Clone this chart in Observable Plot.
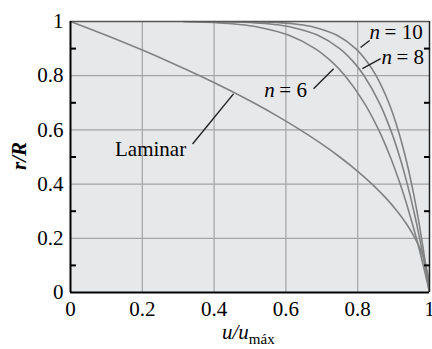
<!DOCTYPE html>
<html>
<head>
<meta charset="utf-8">
<script src="https://cdn.jsdelivr.net/npm/d3@7"></script>
<script src="https://cdn.jsdelivr.net/npm/@observablehq/plot@0.6"></script>
<style>
  html, body { margin: 0; padding: 0; background: white; }
</style>
</head>
<body>
<div id="chart"></div>
<script>
// r/R sample positions (shared by turbulent curves)
const rTurb = [0, 0.01, 0.02, 0.05, 0.1, 0.2, 0.3, 0.4, 0.5, 0.6, 0.7, 0.8, 0.85, 0.9, 0.95, 0.98, 0.99, 0.995, 0.999];
const uN6  = [1, 0.99833, 0.99664, 0.99149, 0.98259, 0.96349, 0.94228, 0.91838, 0.89090, 0.85837, 0.81818, 0.76472, 0.72892, 0.68129, 0.60696, 0.52102, 0.46416, 0.41352, 0.31623];
const uN8  = [1, 0.99874, 0.99748, 0.99361, 0.98692, 0.97250, 0.95640, 0.93815, 0.91700, 0.89178, 0.86028, 0.81777, 0.78886, 0.74989, 0.68766, 0.61323, 0.56234, 0.51566, 0.42170];
const uN10 = [1, 0.99900, 0.99798, 0.99488, 0.98952, 0.97793, 0.96496, 0.95020, 0.93303, 0.91245, 0.88657, 0.85134, 0.82720, 0.79433, 0.74113, 0.67624, 0.63096, 0.58870, 0.50119];
// laminar
const rLam = [0, 0.05, 0.1, 0.15, 0.2, 0.25, 0.3, 0.35, 0.4, 0.45, 0.5, 0.55, 0.6, 0.65, 0.7, 0.75, 0.8, 0.85, 0.9, 0.95, 1];
const uLam = [1, 0.9975, 0.99, 0.9775, 0.96, 0.9375, 0.91, 0.8775, 0.84, 0.7975, 0.75, 0.6975, 0.64, 0.5775, 0.51, 0.4375, 0.36, 0.2775, 0.19, 0.0975, 0];

const majorTicks = [0, 0.2, 0.4, 0.6, 0.8, 1];
const gridTicks = [0.2, 0.4, 0.6, 0.8];
const minorTicks = [0.1, 0.3, 0.5, 0.7, 0.9];

// annotation labels (data units)
const labelText = ["Laminar", "6", "8", "10"];
const labelU = [0.223, 0.54, 0.866, 0.833];
const labelR = [0.53, 0.745, 0.867, 0.96];
const leadU1 = [0.340, 0.677, 0.813, 0.808];
const leadR1 = [0.548, 0.752, 0.826, 0.904];
const leadU2 = [0.454, 0.733, 0.864, 0.833];
const leadR2 = [0.733, 0.826, 0.863, 0.930];

const curves = [];
rTurb.forEach((r, i) => {
  curves.push({n: "6", u: uN6[i], r});
  curves.push({n: "8", u: uN8[i], r});
  curves.push({n: "10", u: uN10[i], r});
});
rLam.forEach((r, i) => curves.push({n: "lam", u: uLam[i], r}));

const leaders = labelText.map((t, i) => ({x1: leadU1[i], y1: leadR1[i], x2: leadU2[i], y2: leadR2[i]}));
const lamLabel = [{t: labelText[0], u: labelU[0], r: labelR[0]}];
const nLabels = labelText.slice(1).map((t, i) => ({t, u: labelU[i + 1], r: labelR[i + 1]}));

const FONT = "Liberation Serif";
const FS = 21;

const plot = Plot.plot({
  width: 432,
  height: 349,
  marginLeft: 70,
  marginRight: 3,
  marginTop: 21,
  marginBottom: 57,
  style: "font-size: 21px; background: white; color: black; overflow: visible;",
  x: {domain: [0, 1], axis: null},
  y: {domain: [0, 1], axis: null},
  marks: [
    Plot.frame({fill: "#e7e8ea", stroke: null}),
    Plot.gridX(gridTicks, {stroke: "#a4a4a4", strokeOpacity: 1, strokeWidth: 1.2}),
    Plot.gridY(gridTicks, {stroke: "#a4a4a4", strokeOpacity: 1, strokeWidth: 1.2}),
    Plot.line(curves, {x: "u", y: "r", z: "n", stroke: "#828282", strokeWidth: 1.6, curve: "catmull-rom", clip: true}),
    Plot.link(leaders, {x1: "x1", y1: "y1", x2: "x2", y2: "y2", stroke: "#222", strokeWidth: 1.4}),
    Plot.ruleY([1], {stroke: "#555", strokeWidth: 1.5}),
    Plot.ruleX([1], {stroke: "#222", strokeWidth: 1.5}),
    Plot.ruleX([0], {stroke: "black", strokeWidth: 2}),
    Plot.ruleY([0], {stroke: "black", strokeWidth: 2}),
    Plot.axisY(minorTicks, {anchor: "left", tickSize: -6, text: null, stroke: "black", strokeWidth: 2}),
    Plot.axisY(minorTicks, {anchor: "right", tickSize: -6, text: null, stroke: "black", strokeWidth: 2}),
    Plot.axisY(majorTicks, {anchor: "left", tickSize: 0, tickPadding: 7, fontSize: FS, fontVariant: "normal", tickFormat: d => String(d), label: null}),
    Plot.axisX(majorTicks, {anchor: "bottom", tickSize: 0, tickPadding: 9, fontSize: FS, fontVariant: "normal", tickFormat: d => String(d), label: null}),
    Plot.text(lamLabel, {x: "u", y: "r", text: "t", fontSize: FS, textAnchor: "middle", fill: "black"}),
    Plot.text(nLabels, {x: "u", y: "r", text: d => "n", fontSize: FS, fontStyle: "italic", textAnchor: "start", fill: "black"}),
    Plot.text(nLabels, {x: "u", y: "r", text: d => "= " + d.t, fontSize: FS, textAnchor: "start", dx: 15, fill: "black"})
  ]
});

const svg = d3.select(plot);
svg.attr("font-family", FONT);
svg.selectAll("g").attr("font-family", FONT);
// x axis title: u/u_máx
const xt = svg.append("text")
  .attr("x", 222).attr("y", 339)
  .attr("font-size", FS).attr("fill", "black").attr("text-anchor", "start");
xt.append("tspan").attr("font-style", "italic").text("u/u");
xt.append("tspan").attr("font-size", 15).attr("dy", 5).text("máx");
// y axis title: r/R
svg.append("text")
  .attr("transform", "translate(26,156) rotate(-90)")
  .attr("text-anchor", "middle")
  .attr("font-size", FS).attr("font-style", "italic").attr("font-weight", "bold")
  .attr("fill", "black")
  .text("r/R");
// apply the serif family directly on every text element
svg.selectAll("text").attr("font-family", FONT).style("font-family", FONT);

document.getElementById("chart").appendChild(plot);
</script>
</body>
</html>
